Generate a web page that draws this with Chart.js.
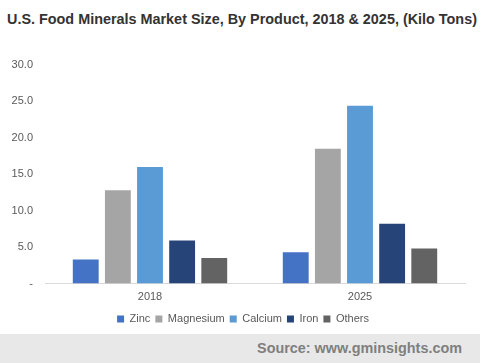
<!DOCTYPE html>
<html>
<head>
<meta charset="utf-8">
<script src="https://cdn.jsdelivr.net/npm/chart.js@4"></script>
<style>
  html, body { margin: 0; padding: 0; background: #ffffff; }
  #wrap { position: relative; width: 480px; height: 363px; overflow: hidden; }
  #title { position: absolute; left: 7px; top: 11px; font: bold 14.4px "Liberation Sans", Arial, sans-serif; color: #333333; white-space: nowrap; }
  #chartBox { position: absolute; left: 0; top: 40px; width: 480px; height: 290px; }
  #source { position: absolute; left: 0; top: 334px; width: 480px; height: 29px; background: #e8e8e8; }
  #source span { position: absolute; right: 18px; top: 6px; font: bold 14.4px "Liberation Sans", Arial, sans-serif; color: #7f7f7f; }
</style>
</head>
<body>
<div id="wrap">
  <div id="title">U.S. Food Minerals Market Size, By Product, 2018 &amp; 2025, (Kilo Tons)</div>
  <div id="chartBox"><canvas id="c"></canvas></div>
  <div id="source"><span>Source: www.gminsights.com</span></div>
</div>
<script>
const categories = ['2018', '2025'];
const seriesNames = ['Zinc', 'Magnesium', 'Calcium', 'Iron', 'Others'];
const zinc = [3.3, 4.3];
const magnesium = [12.8, 18.5];
const calcium = [16.0, 24.4];
const iron = [5.9, 8.2];
const others = [3.5, 4.8];
const colors = ['#4472C4', '#A5A5A5', '#5B9BD5', '#264478', '#636363'];
const values = [zinc, magnesium, calcium, iron, others];

const legendFix = {
  id: 'legendFix',
  beforeInit(chart) {
    const lg = chart.legend;
    if (!lg) return;
    const origFit = lg.fit;
    lg.fit = function () {
      origFit.call(this);
      this.height = 21.5;
    };
  },
  afterLayout(chart) {
    const lg = chart.legend;
    if (!lg) return;
    lg.left += 9.5;
    lg.right += 9.5;
  }
};

new Chart(document.getElementById('c'), {
  type: 'bar',
  data: {
    labels: categories,
    datasets: seriesNames.map((n, i) => ({
      label: n,
      data: values[i],
      backgroundColor: colors[i],
      borderWidth: 0,
      barPercentage: 0.805,
      categoryPercentage: 0.765
    }))
  },
  options: {
    responsive: true,
    maintainAspectRatio: false,
    animation: false,
    layout: { padding: { left: 2, right: 15, top: 25, bottom: 0 } },
    plugins: {
      legend: {
        position: 'bottom',
        labels: {
          boxWidth: 7, boxHeight: 7, padding: 5,
          color: '#595959',
          font: { family: '"Liberation Sans", Arial, sans-serif', size: 11 }
        }
      },
      tooltip: { enabled: false }
    },
    scales: {
      x: {
        grid: { display: false, drawTicks: false },
        border: { color: '#d9d9d9', width: 1 },
        afterFit: s => { s.height = 25; },
        ticks: { color: '#595959', padding: 7, font: { family: '"Liberation Sans", Arial, sans-serif', size: 11 } }
      },
      y: {
        min: 0, max: 30,
        grid: { display: false, drawTicks: false },
        border: { display: false },
        afterFit: s => { s.width = 43; },
        ticks: {
          stepSize: 5,
          padding: 12,
          color: '#595959',
          font: { family: '"Liberation Sans", Arial, sans-serif', size: 11 },
          callback: v => v === 0 ? '-' : v.toFixed(1)
        }
      }
    }
  },
  plugins: [legendFix]
});
</script>
</body>
</html>
